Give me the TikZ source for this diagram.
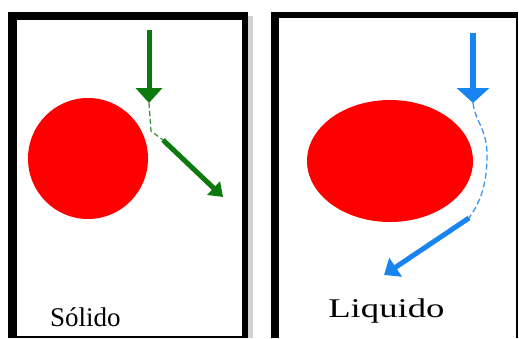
\documentclass[tikz,border=0pt]{standalone}
\usepackage{fontspec}
\setmainfont{Liberation Serif}
\usetikzlibrary{arrows.meta}
\definecolor{ggreen}{RGB}{12,122,12}
\definecolor{bblue}{RGB}{24,132,240}
\definecolor{rred}{RGB}{255,0,0}
\begin{document}
\begin{tikzpicture}[x=1pt,y=-1pt,
  gshaft/.style={draw=ggreen,line width=5pt,-{Triangle[width=26pt,length=15pt]}},
  gdash/.style={draw=ggreen!80,line width=1.3pt,dash pattern=on 5pt off 3pt},
  bshaft/.style={draw=bblue,line width=6pt,-{Triangle[width=32pt,length=15pt]}},
  bdash/.style={draw=bblue!85,line width=1.3pt,dash pattern=on 6pt off 3pt},
  lbl/.style={inner sep=0pt,anchor=base}]
\useasboundingbox (0,0) rectangle (519,338);
\fill[white] (0,0) rectangle (519,338);
% left panel
\fill[gray!35] (248,16) rectangle (253,338);
\fill[black] (8,12) rectangle (248,338);
\fill[white] (17,20) rectangle (242,336);
% right panel
\fill[black] (271,12) rectangle (518,338);
\fill[white] (279,18) rectangle (516,338);
% shapes
\fill[rred] (88,158.5) ellipse [x radius=60, y radius=60.5];
\fill[rred] (390,161) ellipse [x radius=83, y radius=61];
% green path
\coordinate (g0) at (149,30);
\coordinate (g1) at (149,103);
\coordinate (g2) at (151,131);
\coordinate (g3) at (163,140);
\coordinate (g4) at (223,197);
\draw[gshaft] (g0) -- (g1);
\draw[gdash] (g1) -- (g2) -- (g3);
\draw[gshaft,line width=5pt,-{Triangle[width=18pt,length=13pt]}] (g3) -- (g4);
% blue path
\coordinate (b0) at (473,33);
\coordinate (b1) at (473,103);
\coordinate (b2) at (469,218);
\coordinate (b3) at (384,275);
\draw[bshaft] (b0) -- (b1);
\draw[bdash] (b1) .. controls (476,125) and (488,128) .. (487,160) .. controls (486,190) and (478,205) .. (b2);
\draw[bshaft,line width=5pt,-{Triangle[width=22pt,length=14pt]}] (b2) -- (b3);
% labels
\node[lbl,anchor=base west] (sol) at (50,326) {\fontsize{27}{30}\selectfont Sólido};
\node[lbl,anchor=base west,xscale=1.36] (liq) at (328,317) {\fontsize{27}{30}\selectfont Liquido};
\end{tikzpicture}
\end{document}
